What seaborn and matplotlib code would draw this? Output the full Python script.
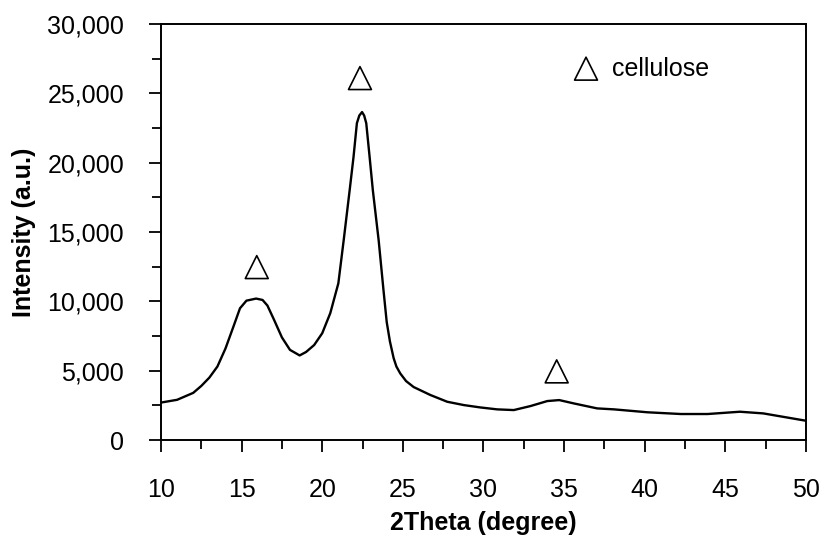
import seaborn as sns
import matplotlib
matplotlib.use("Agg")
import matplotlib.pyplot as plt
from matplotlib.ticker import MultipleLocator, StrMethodFormatter
import pandas as pd

# XRD pattern
two_theta = [10.0, 11.0, 12.0, 12.5, 13.0, 13.5, 14.0, 14.5, 14.9, 15.3, 15.9, 16.3,
             16.6, 17.0, 17.5, 18.0, 18.6, 19.0, 19.5, 20.0, 20.5, 21.0, 21.33, 21.7,
             21.94, 22.15, 22.3, 22.47, 22.6, 22.73, 22.94, 23.14, 23.5, 23.8, 24.0,
             24.2, 24.43, 24.6, 24.84, 25.2, 25.67, 26.7, 27.75, 28.78, 29.8, 30.85,
             31.88, 32.92, 33.96, 34.7, 35.6, 37.05, 38.1, 40.17, 42.24, 43.9, 45.9,
             47.35, 48.8, 50.0]
intensity = [2700, 2900, 3400, 3900, 4500, 5300, 6600, 8200, 9500, 10050, 10200, 10100,
             9700, 8700, 7400, 6500, 6100, 6350, 6850, 7700, 9150, 11300, 14400, 18000,
             20400, 22850, 23400, 23650, 23400, 22850, 20400, 18000, 14400, 10800, 8500,
             7100, 5900, 5300, 4800, 4250, 3820, 3250, 2760, 2520, 2350, 2210,
             2160, 2450, 2810, 2880, 2640, 2280, 2210, 2000, 1875, 1875, 2040,
             1920, 1630, 1390]

# cellulose peak markers
peak_x = [15.94, 22.34, 34.54]
peak_y = [12470, 26100, 4950]
legend_x = [36.36]
legend_y = [26780]
legend_label = "cellulose"

df = pd.DataFrame({"2theta": two_theta, "intensity": intensity})

sns.set_style("ticks")
plt.rcParams["font.family"] = ["Liberation Sans", "DejaVu Sans"]
plt.rcParams["text.color"] = "black"
plt.rcParams["axes.labelcolor"] = "black"

fig = plt.figure(figsize=(8.23, 5.37), dpi=100)
ax = fig.add_axes([0.1956, 0.1806, 0.7837, 0.7747])

sns.lineplot(data=df, x="2theta", y="intensity", color="black", linewidth=1.7, ax=ax)

tri = dict(marker="^", s=16.5 ** 2, facecolors="none", edgecolors="black", linewidths=1.2)
ax.scatter(peak_x, peak_y, **tri, clip_on=False)
ax.scatter(legend_x, legend_y, **tri)
ax.text(38.0, legend_y[0], legend_label, fontsize=18, va="center", ha="left", color="black")

ax.set_xlim(10, 50)
ax.set_ylim(0, 30000)
ax.xaxis.set_major_locator(MultipleLocator(5))
ax.xaxis.set_minor_locator(MultipleLocator(2.5))
ax.yaxis.set_major_locator(MultipleLocator(5000))
ax.yaxis.set_minor_locator(MultipleLocator(2500))
ax.yaxis.set_major_formatter(StrMethodFormatter("{x:,.0f}"))

ax.tick_params(which="major", direction="out", length=8.5, width=1.3, labelsize=18,
               color="black", labelcolor="black")
ax.tick_params(which="minor", direction="out", length=6.5, width=1.3, color="black")
ax.tick_params(axis="y", which="major", pad=18)
ax.tick_params(axis="x", which="major", pad=19)

for sp in ax.spines.values():
    sp.set_linewidth(1.4)
    sp.set_color("black")

ax.set_xlabel("2Theta (degree)", fontsize=18, fontweight="bold", labelpad=6)
ax.set_ylabel("Intensity (a.u.)", fontsize=18, fontweight="bold", labelpad=8)

fig.savefig("out.png", dpi=100)
